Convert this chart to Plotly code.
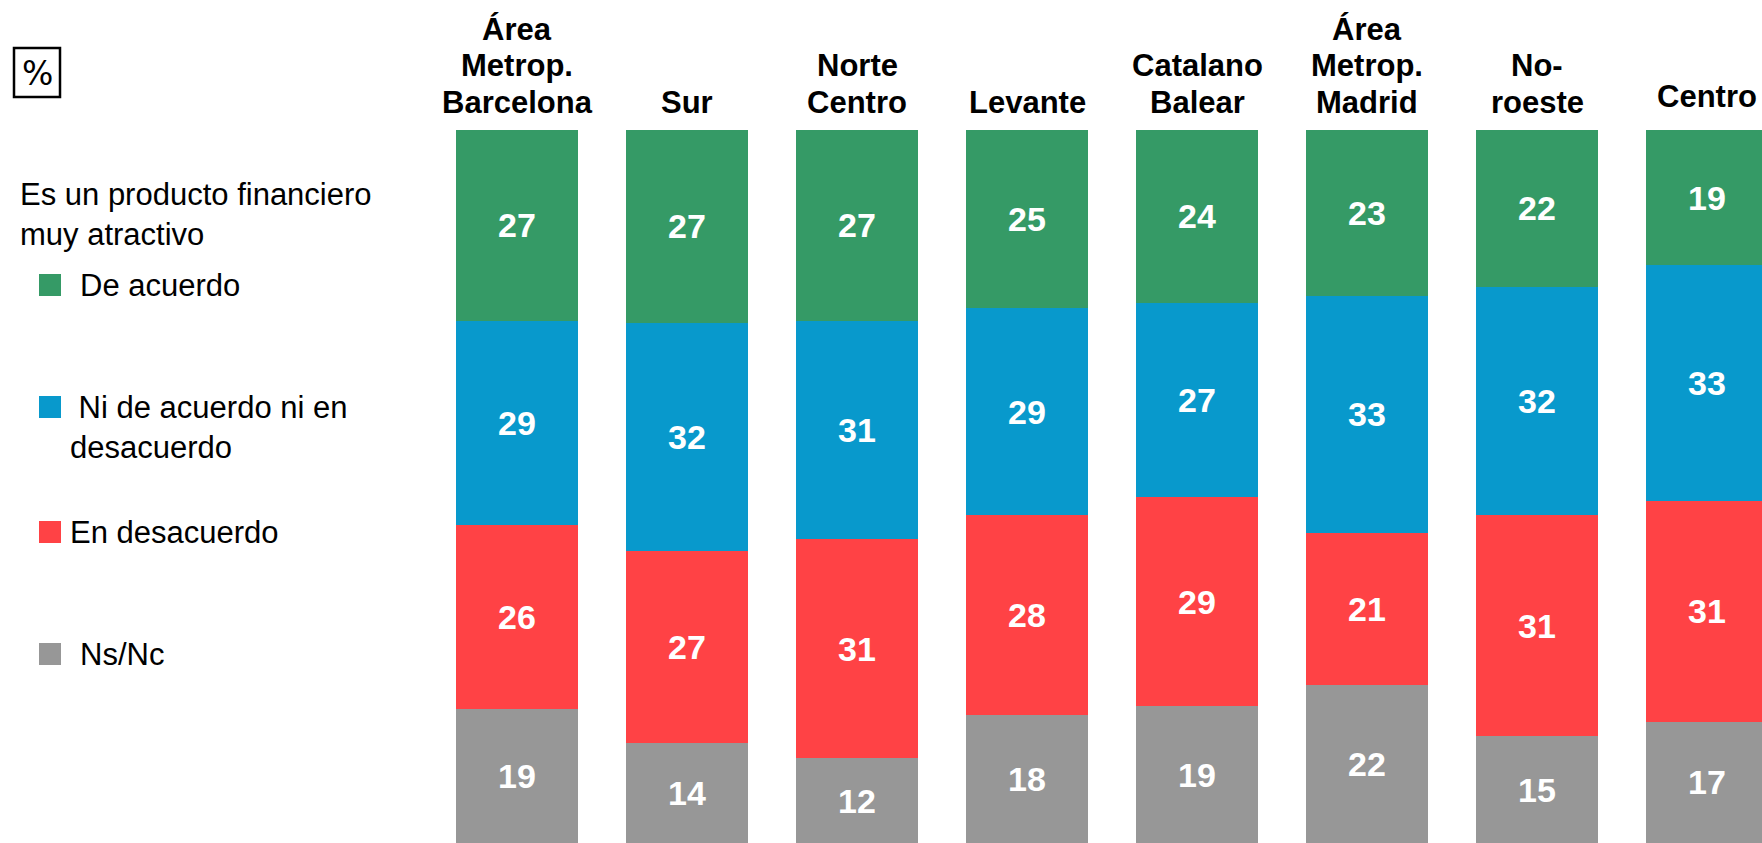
import plotly.graph_objects as go

# ---------------- data ----------------
categories = ["Área<br>Metrop.<br>Barcelona", "Sur", "Norte<br>Centro", "Levante",
              "Catalano<br>Balear", "Área<br>Metrop.<br>Madrid", "No-<br>roeste", "Centro"]
series_names = ["De acuerdo", "Ni de acuerdo ni en desacuerdo", "En desacuerdo", "Ns/Nc"]
de_acuerdo = [27, 27, 27, 25, 24, 23, 22, 19]
ni_ni = [29, 32, 31, 29, 27, 33, 32, 33]
en_desacuerdo = [26, 27, 31, 28, 29, 21, 31, 31]
ns_nc = [19, 14, 12, 18, 19, 22, 15, 17]
legend_title = "Es un producto financiero<br>muy atractivo"
unit_label = "%"

# ---------------- style ----------------
colors = ["#359A66", "#0899CC", "#FF4245", "#979797"]
W, H = 1762, 843
PLOT_LEFT, PLOT_TOP = 432, 130
PITCH = 170.0
FONT = "Liberation Sans, Arial, sans-serif"

def px(x):
    return x / W

def py(y):
    return 1 - y / H

# stack order bottom -> top
stack = [(series_names[3], ns_nc, colors[3]),
         (series_names[2], en_desacuerdo, colors[2]),
         (series_names[1], ni_ni, colors[1]),
         (series_names[0], de_acuerdo, colors[0])]

totals = [a + b + c + d for a, b, c, d in zip(de_acuerdo, ni_ni, en_desacuerdo, ns_nc)]
xidx = list(range(len(categories)))

fig = go.Figure()
for name, vals, col in stack:
    fig.add_trace(go.Bar(
        x=xidx,
        y=[v / t * 100 for v, t in zip(vals, totals)],
        name=name,
        marker=dict(color=col, line=dict(width=0)),
        text=[str(v) for v in vals],
        textposition="inside",
        insidetextanchor="middle",
        textangle=0,
        textfont=dict(family=FONT, size=34, color="white", weight="bold"),
        constraintext="none",
        hoverinfo="skip",
        showlegend=False,
    ))

plot_w = W - PLOT_LEFT
fig.update_layout(
    barmode="stack",
    bargap=1 - 122 / PITCH,
    width=W, height=H,
    margin=dict(l=0, r=0, t=0, b=0),
    paper_bgcolor="white", plot_bgcolor="white",
    showlegend=False,
    xaxis=dict(domain=[PLOT_LEFT / W, 1], range=[-0.5, -0.5 + plot_w / PITCH],
               showticklabels=False, showgrid=False, zeroline=False, ticks="", fixedrange=True),
    yaxis=dict(domain=[0, 1 - PLOT_TOP / H], range=[0, 100],
               showticklabels=False, showgrid=False, zeroline=False, ticks="", fixedrange=True),
)

# category headers (one annotation per line, stacked upward from the baseline)
HEADER_BASE = 103      # centre y of the lowest header line (px)
HEADER_STEP = 37       # line spacing (px)
header_shift = {"Centro": -6}
for i, c in enumerate(categories):
    lines = c.split("<br>")
    for j, line in enumerate(reversed(lines)):
        yc = HEADER_BASE - j * HEADER_STEP + header_shift.get(c, 0)
        fig.add_annotation(x=i, xref="x", y=py(yc), yref="paper",
                           text=line, showarrow=False, xanchor="center", yanchor="middle",
                           font=dict(family=FONT, size=31, color="black", weight="bold"))

# "%" box
fig.add_shape(type="rect", xref="paper", yref="paper",
              x0=px(14), x1=px(60), y0=py(48), y1=py(97),
              line=dict(color="black", width=2.5), fillcolor="white")
fig.add_annotation(x=px(37), y=py(73), xref="paper", yref="paper", text=unit_label,
                   showarrow=False, xanchor="center", yanchor="middle",
                   font=dict(family="DejaVu Sans, sans-serif", size=33, color="black"))

# legend (drawn manually)
fig.add_annotation(x=px(18), y=py(214), xref="paper", yref="paper", text=legend_title,
                   showarrow=False, xanchor="left", yanchor="middle", align="left",
                   font=dict(family=FONT, size=31, color="black"))

legend_rows = [
    # (series index, square centre y, text x, text centre y, label text)
    (0, 285, 78, 285, series_names[0]),
    (1, 407, 68, 427, "\u00a0Ni de acuerdo ni en<br>desacuerdo"),
    (2, 532, 68, 532, series_names[2]),
    (3, 654, 78, 654, series_names[3]),
]
for si, sy, tx, ty, txt in legend_rows:
    fig.add_shape(type="rect", xref="paper", yref="paper",
                  x0=px(39), x1=px(61), y0=py(sy - 11), y1=py(sy + 11),
                  line=dict(width=0), fillcolor=colors[si])
    fig.add_annotation(x=px(tx), y=py(ty), xref="paper", yref="paper", text=txt,
                       showarrow=False, xanchor="left", yanchor="middle", align="left",
                       font=dict(family=FONT, size=31, color="black"))

fig.write_html("out.html",
               config={"displayModeBar": False, "staticPlot": True},
               post_script="document.body.style.margin='0';document.body.style.overflow='hidden';")
